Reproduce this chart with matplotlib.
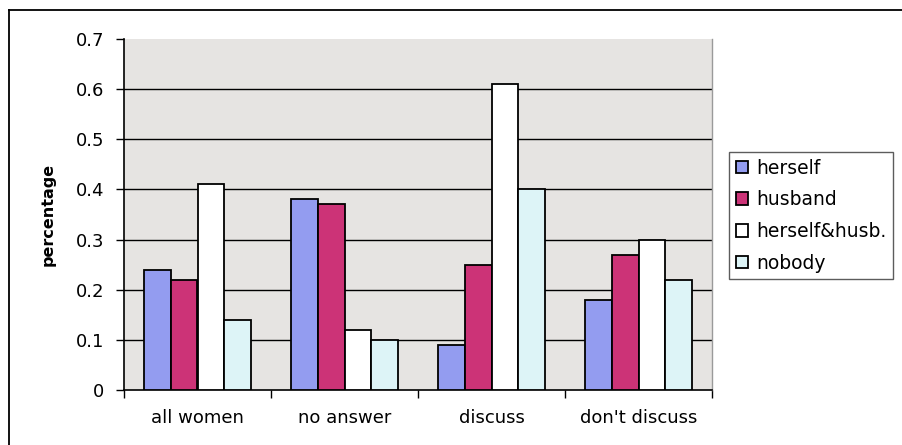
import matplotlib
matplotlib.use("Agg")
import matplotlib.pyplot as plt
import numpy as np
from matplotlib.lines import Line2D

categories = ["all women", "no answer", "discuss", "don't discuss"]
series_names = ["herself", "husband", "herself&husb.", "nobody"]
herself = [0.24, 0.38, 0.09, 0.18]
husband = [0.22, 0.37, 0.25, 0.27]
herself_husb = [0.41, 0.12, 0.61, 0.30]
nobody = [0.14, 0.10, 0.40, 0.22]
y_ticks = [0, 0.1, 0.2, 0.3, 0.4, 0.5, 0.6, 0.7]

series = [herself, husband, herself_husb, nobody]
colors = ["#939CF0", "#CC3377", "#FFFFFF", "#DDF4F7"]

plt.rcParams["font.family"] = ["DejaVu Sans"]

fig = plt.figure(figsize=(9.02, 4.45), dpi=100)

# outer chart frame (left and top edges visible)
fig.add_artist(Line2D([9 / 902, 9 / 902], [0, 1 - 10 / 445], color="black", lw=1.3,
                      transform=fig.transFigure))
fig.add_artist(Line2D([9 / 902, 1], [1 - 10 / 445, 1 - 10 / 445], color="black", lw=1.3,
                      transform=fig.transFigure))

ax = fig.add_axes([124 / 902, 1 - 390 / 445, (712 - 124) / 902, (390 - 39) / 445])
ax.set_facecolor("#E6E4E2")

x = np.arange(len(categories))
n = len(series)
bar_w = 1 / (n + 1.5)
for i, (vals, col, name) in enumerate(zip(series, colors, series_names)):
    offs = -0.5 + 0.75 * bar_w + (i + 0.5) * bar_w
    ax.bar(x + offs, vals, width=bar_w, color=col, edgecolor="black",
           linewidth=1.3, label=name, zorder=3)

ax.set_xlim(-0.5, len(categories) - 0.5)
ax.set_ylim(0, 0.7)
ax.set_yticks(y_ticks)
ax.set_yticklabels(["0" if t == 0 else f"{t:.1f}" for t in y_ticks], fontsize=13)
# major gridlines inside the plot area (none along the top edge)
for t in y_ticks[1:-1]:
    ax.axhline(t, color="black", linewidth=1.0, zorder=1)

# category boundaries carry the tick marks, names sit between them
ax.set_xticks(np.arange(-0.5, len(categories), 1.0))
ax.set_xticklabels([])
ax.set_xticks(x, minor=True)
ax.set_xticklabels(categories, minor=True, fontsize=13)
ax.tick_params(axis="x", which="minor", length=0, pad=14)
ax.tick_params(axis="x", which="major", length=6, direction="out", width=1)
ax.tick_params(axis="y", length=6, direction="out", width=1, pad=8)

for s in ["left", "bottom"]:
    ax.spines[s].set_color("black")
    ax.spines[s].set_linewidth(1.2)
ax.spines["top"].set_visible(False)
ax.spines["right"].set_color("#9A9A9A")
ax.spines["right"].set_linewidth(1.0)

fig.text(48 / 902, 1 - 214 / 445, "percentage", rotation=90, fontsize=11.5,
         fontweight="bold", ha="center", va="center")

leg = fig.legend(loc="upper left", bbox_to_anchor=(729 / 902, 1 - 152 / 445),
                 fontsize=13.5, frameon=True, fancybox=False, edgecolor="#333333",
                 handlelength=0.65, handleheight=0.65, handletextpad=0.45,
                 labelspacing=0.68, borderpad=0.35, borderaxespad=0)
leg.get_frame().set_linewidth(1.0)
for h in leg.legend_handles:
    h.set_linewidth(1.3)

fig.savefig("out.png", dpi=100)
